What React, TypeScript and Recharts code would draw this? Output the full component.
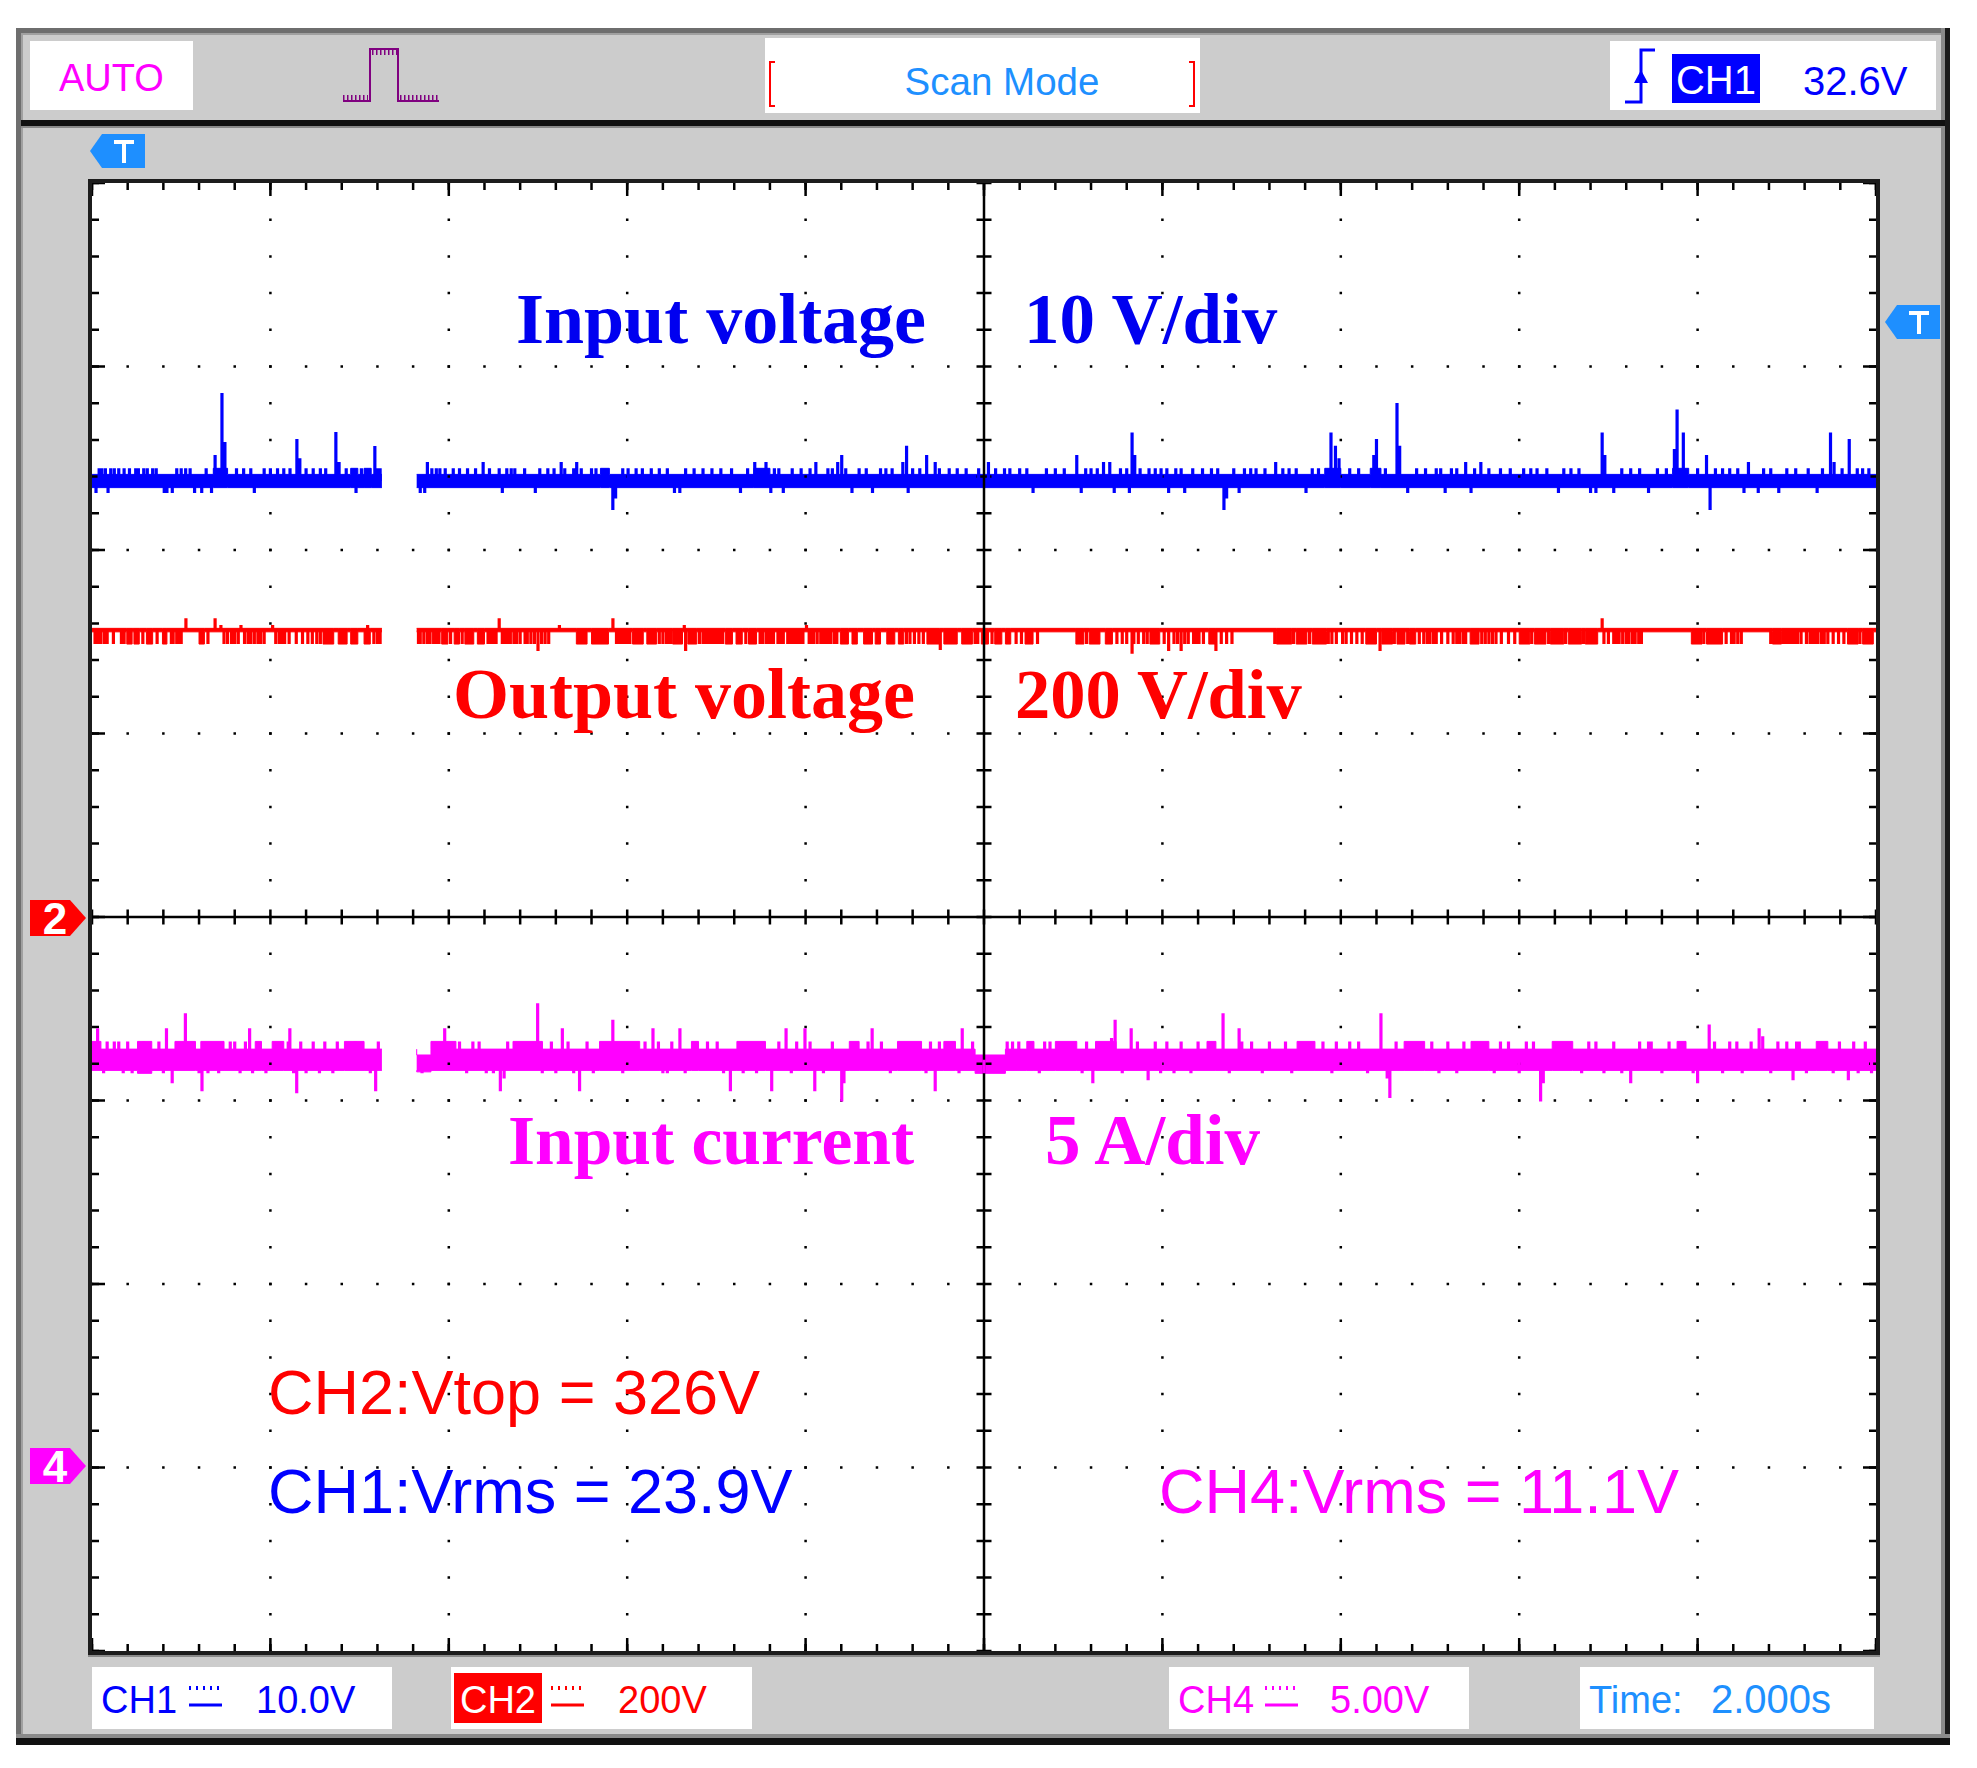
import React from 'react';
import { ComposedChart, XAxis, YAxis, Area, Line, ReferenceLine } from 'recharts';

// screen geometry of the scope display
const W = 1977;
const H = 1768;
const PLOT = { left: 92, top: 183, right: 1876, bottom: 1651 };
const PW = PLOT.right - PLOT.left;
const PH = PLOT.bottom - PLOT.top;
const MINOR_X = PW / 50;
const MINOR_Y = PH / 40;
const MAJOR_X = PW / 10;
const MAJOR_Y = PH / 8;
const DOT = 2.5;

// time base 2.000 s/div, 10 div; vertical 8 div
const timeDomain = [0, 20];
const divDomain = [-4, 4];
const gridCols = [2, 4, 6, 8, 12, 14, 16, 18];
const gridRows = [-3, -2, -1, 1, 2, 3];

// channel scales: CH1 10.0V/div, CH2 200V/div (ground at centre), CH4 5.00V/div (ground one div above bottom)
const ch1Domain = [-40, 40];
const ch2Domain = [-800, 800];
const ch4Domain = [-5, 35];

// scan mode: trace missing between these times
const scanGap = [3.25, 3.64];

// resting band of each trace [lo, hi]
const ch1Level: [number, number] = [23.4, 24.12];
const ch2Level: [number, number] = [310.8, 314.6];
const ch4Level: [number, number] = [10.82, 11.4];

// wider excursions [t0, t1, lo, hi]
const ch1Blocks: number[][] = [
  [1.36, 1.52, 23.4, 24.45], [2.9, 2.98, 23.4, 24.45], [3.05, 3.13, 23.4, 24.45],
  [5.7, 5.8, 23.4, 24.45], [7.42, 7.6, 23.4, 24.45], [13.82, 14.0, 23.4, 24.45],
  [14.33, 14.45, 23.4, 24.45], [17.72, 17.9, 23.4, 24.45],
];
const ch2Blocks: number[][] = [
  [0.39, 0.45, 297.5, 314.6], [0.47, 0.53, 297.5, 314.6], [0.61, 0.68, 297.5, 314.6],
  [0.79, 0.84, 297.5, 314.6], [1.2, 1.26, 297.5, 314.6], [2.59, 2.71, 297.5, 314.6],
  [2.76, 2.86, 297.5, 314.6], [2.9, 2.98, 297.5, 314.6], [3.05, 3.12, 297.5, 314.6],
  [3.92, 3.99, 297.5, 314.6], [4.06, 4.12, 297.5, 314.6], [4.18, 4.28, 297.5, 314.6],
  [4.32, 4.4, 297.5, 314.6], [5.43, 5.55, 297.5, 314.6], [5.6, 5.79, 297.5, 314.6],
  [6.06, 6.18, 297.5, 314.6], [6.22, 6.33, 297.5, 314.6], [6.51, 6.62, 297.5, 314.6],
  [6.68, 6.78, 297.5, 314.6], [7.1, 7.18, 297.5, 314.6], [7.22, 7.29, 297.5, 314.6],
  [7.36, 7.45, 297.5, 314.6], [8.39, 8.48, 297.5, 314.6], [8.52, 8.58, 297.5, 314.6],
  [8.65, 8.75, 297.5, 314.6], [8.78, 8.84, 297.5, 314.6], [8.91, 9.0, 297.5, 314.6],
  [9.04, 9.1, 297.5, 314.6], [9.36, 9.5, 297.5, 314.6], [9.55, 9.7, 297.5, 314.6],
  [9.75, 9.87, 297.5, 314.6], [9.97, 10.05, 297.5, 314.6], [10.12, 10.2, 297.5, 314.6],
  [10.24, 10.3, 297.5, 314.6], [10.46, 10.55, 297.5, 314.6], [11.03, 11.12, 297.5, 314.6],
  [11.18, 11.3, 297.5, 314.6], [11.36, 11.44, 297.5, 314.6], [11.86, 11.97, 297.5, 314.6],
  [12.52, 12.6, 297.5, 314.6], [13.28, 13.45, 297.5, 314.6], [13.5, 13.62, 297.5, 314.6],
  [13.68, 13.84, 297.5, 314.6], [14.28, 14.4, 297.5, 314.6], [14.46, 14.58, 297.5, 314.6],
  [14.63, 14.72, 297.5, 314.6], [14.77, 14.84, 297.5, 314.6], [15.45, 15.55, 297.5, 314.6],
  [16.0, 16.12, 297.5, 314.6], [16.17, 16.3, 297.5, 314.6], [16.35, 16.5, 297.5, 314.6],
  [16.55, 16.7, 297.5, 314.6], [16.74, 16.88, 297.5, 314.6], [17.93, 18.05, 297.5, 314.6],
  [18.1, 18.28, 297.5, 314.6], [18.84, 18.94, 297.5, 314.6], [19.68, 19.8, 297.5, 314.6],
  [19.85, 19.97, 297.5, 314.6],
];
const ch4Blocks: number[][] = [
  [0, 0.1, 10.82, 11.61], [0.51, 0.67, 10.74, 11.61], [0.93, 1.16, 10.82, 11.61],
  [1.22, 1.48, 10.82, 11.61], [1.83, 1.9, 10.82, 11.61], [2.02, 2.15, 10.82, 11.61],
  [2.83, 3.05, 10.82, 11.61], [3.64, 3.8, 10.78, 11.24], [3.8, 4.08, 10.82, 11.61],
  [4.72, 5.05, 10.82, 11.61], [5.69, 6.14, 10.82, 11.61], [6.72, 6.8, 10.82, 11.61],
  [7.23, 7.55, 10.82, 11.61], [8.49, 8.6, 10.82, 11.61], [9.03, 9.3, 10.82, 11.61],
  [9.55, 9.68, 10.82, 11.61], [9.9, 10.24, 10.74, 11.24], [10.48, 10.56, 10.82, 11.61],
  [10.8, 11.04, 10.82, 11.61], [11.25, 11.48, 10.82, 11.61], [12.5, 12.6, 10.82, 11.61],
  [13.51, 13.71, 10.82, 11.61], [14.71, 14.94, 10.82, 11.61], [15.46, 15.66, 10.82, 11.61],
  [16.37, 16.6, 10.82, 11.61], [17.77, 17.87, 10.82, 11.61], [19.33, 19.46, 10.82, 11.61],
];

// narrow spikes / dips [t, value]
const ch1Spikes: number[][] = [
  [0.045, 23.1], [0.08, 24.45], [0.11, 24.45], [0.15, 24.45], [0.18, 23.1], [0.21, 24.45],
  [0.25, 24.45], [0.3, 24.45], [0.36, 24.45], [0.42, 24.45], [0.49, 24.45], [0.52, 24.45],
  [0.58, 24.45], [0.62, 24.45], [0.68, 24.45], [0.72, 24.45], [0.81, 23.1], [0.84, 23.1],
  [0.9, 23.1], [0.95, 24.45], [1.0, 24.45], [1.05, 24.45], [1.1, 24.45], [1.15, 23.1],
  [1.23, 23.1], [1.28, 24.45], [1.34, 23.1], [1.38, 25.18], [1.457, 28.56], [1.49, 25.89],
  [1.62, 24.45], [1.7, 24.45], [1.78, 24.45], [1.82, 23.1], [1.93, 24.45], [2.0, 24.45],
  [2.08, 24.45], [2.15, 24.45], [2.22, 24.45], [2.297, 26.05], [2.33, 25.0], [2.4, 24.45],
  [2.48, 24.45], [2.56, 24.45], [2.62, 24.45], [2.734, 26.43], [2.77, 24.8], [2.85, 24.45],
  [2.96, 23.1], [3.02, 24.45], [3.171, 25.67], [3.2, 24.45], [3.23, 24.45],
  [3.68, 23.1], [3.73, 23.1], [3.76, 24.8], [3.81, 24.45], [3.86, 24.45], [3.9, 24.45],
  [3.96, 24.45], [4.05, 24.45], [4.12, 24.45], [4.21, 24.45], [4.3, 24.45], [4.385, 24.8],
  [4.456, 24.45], [4.565, 24.45], [4.6, 23.1], [4.65, 24.45], [4.7, 24.45], [4.74, 24.45],
  [4.85, 24.45], [4.97, 23.1], [5.02, 24.45], [5.11, 24.45], [5.18, 24.45], [5.26, 24.8],
  [5.3, 24.45], [5.4, 24.45], [5.434, 24.8], [5.485, 24.45], [5.6, 24.45], [5.65, 24.45],
  [5.839, 22.18], [5.87, 22.8], [5.95, 24.45], [6.01, 24.45], [6.1, 24.45], [6.17, 24.45],
  [6.27, 24.45], [6.36, 24.45], [6.45, 24.45], [6.53, 23.1], [6.59, 23.1], [6.655, 24.45],
  [6.75, 24.45], [6.85, 24.45], [6.95, 24.45], [7.05, 24.45], [7.17, 24.45], [7.27, 23.1],
  [7.35, 24.45], [7.43, 24.8], [7.556, 24.8], [7.61, 23.1], [7.65, 24.45], [7.7, 24.45],
  [7.75, 23.1], [7.85, 24.45], [7.95, 24.45], [8.05, 24.45], [8.115, 24.8], [8.25, 24.45],
  [8.3, 24.45], [8.36, 24.8], [8.405, 25.18], [8.45, 24.45], [8.52, 23.1], [8.6, 24.45],
  [8.68, 24.45], [8.75, 23.1], [8.84, 24.45], [8.9, 24.45], [8.97, 24.45], [9.09, 24.8],
  [9.132, 25.68], [9.15, 23.1], [9.2, 24.45], [9.28, 24.45], [9.357, 25.18], [9.453, 24.8],
  [9.5, 24.45], [9.61, 24.45], [9.7, 24.45], [9.8, 24.45], [9.94, 24.45], [10.05, 24.8],
  [10.13, 24.45], [10.23, 24.45], [10.29, 24.45], [10.4, 24.45], [10.48, 24.45], [10.55, 23.1],
  [10.7, 24.45], [10.8, 24.45], [10.9, 24.45], [11.04, 25.18], [11.09, 23.1], [11.14, 24.45],
  [11.2, 24.45], [11.27, 24.45], [11.34, 24.8], [11.41, 24.8], [11.46, 23.1], [11.53, 24.45],
  [11.6, 24.45], [11.63, 23.1], [11.66, 26.41], [11.69, 25.18], [11.75, 24.45], [11.85, 24.45],
  [11.92, 24.45], [11.985, 24.45], [12.05, 24.45], [12.07, 23.1], [12.15, 24.45], [12.21, 24.45],
  [12.25, 23.1], [12.34, 24.45], [12.45, 24.45], [12.55, 24.45], [12.62, 24.45], [12.69, 22.18],
  [12.72, 22.8], [12.8, 24.45], [12.86, 23.1], [12.92, 24.45], [12.99, 24.45], [13.05, 24.45],
  [13.15, 24.45], [13.27, 24.8], [13.35, 24.45], [13.42, 24.45], [13.5, 24.45], [13.61, 23.1],
  [13.68, 24.45], [13.75, 24.45], [13.89, 26.41], [13.94, 25.68], [13.98, 25.0], [14.1, 24.45],
  [14.2, 24.45], [14.37, 25.18], [14.4, 26.05], [14.5, 24.45], [14.63, 28.01], [14.66, 25.68],
  [14.75, 23.1], [14.85, 24.45], [14.95, 24.45], [15.07, 24.45], [15.12, 24.45], [15.17, 23.1],
  [15.24, 24.45], [15.3, 24.45], [15.4, 24.8], [15.46, 23.1], [15.5, 24.45], [15.57, 24.8],
  [15.66, 24.45], [15.79, 24.45], [15.9, 24.45], [16.05, 24.45], [16.13, 24.45], [16.2, 24.45],
  [16.31, 24.45], [16.44, 23.1], [16.5, 24.45], [16.58, 24.45], [16.67, 24.45], [16.8, 23.1],
  [16.86, 23.1], [16.93, 26.41], [16.96, 25.18], [17.06, 23.1], [17.15, 24.45], [17.25, 24.45],
  [17.35, 24.45], [17.45, 23.1], [17.55, 24.45], [17.65, 24.45], [17.74, 25.5], [17.77, 27.65],
  [17.84, 26.41], [18.0, 24.45], [18.1, 25.18], [18.14, 22.18], [18.2, 24.45], [18.28, 24.45],
  [18.36, 24.45], [18.45, 24.45], [18.52, 23.1], [18.57, 24.8], [18.68, 23.1], [18.74, 24.45],
  [18.82, 24.45], [18.91, 23.1], [19.0, 24.45], [19.1, 24.45], [19.24, 24.45], [19.34, 23.1],
  [19.4, 24.45], [19.49, 26.41], [19.53, 24.8], [19.62, 24.45], [19.7, 26.05], [19.79, 24.45],
  [19.85, 24.45], [19.92, 24.45],
];
const ch2Spikes: number[][] = [
  [0.034, 297.5], [0.07, 297.5], [0.1, 297.5], [0.14, 297.5], [0.17, 297.5], [0.24, 297.5],
  [0.33, 297.5], [0.36, 297.5], [0.57, 297.5], [0.73, 297.5], [0.89, 297.5], [0.91, 297.5],
  [0.95, 297.5], [0.97, 297.5], [1.0, 297.5], [1.053, 325.6], [1.3, 297.5], [1.38, 325.6],
  [1.445, 318.3], [1.48, 297.5], [1.52, 297.5], [1.565, 297.5], [1.6, 297.5], [1.64, 297.5],
  [1.67, 318.3], [1.71, 297.5], [1.75, 297.5], [1.78, 297.5], [1.82, 297.5], [1.86, 297.5],
  [1.89, 297.5], [1.93, 297.5], [2.025, 318.3], [2.06, 297.5], [2.1, 297.5], [2.13, 297.5],
  [2.16, 297.5], [2.21, 297.5], [2.29, 297.5], [2.36, 297.5], [2.42, 297.5], [2.47, 297.5],
  [2.52, 297.5], [2.56, 297.5], [3.09, 318.3], [3.16, 297.5], [3.2, 297.5], [3.23, 297.5],
  [3.66, 297.5], [3.68, 297.5], [3.72, 297.5], [3.76, 297.5], [3.79, 297.5], [3.83, 297.5],
  [3.86, 297.5], [3.89, 297.5], [4.02, 297.5], [4.15, 297.5], [4.44, 297.5], [4.47, 297.5],
  [4.5, 297.5], [4.53, 297.5], [4.565, 325.6], [4.6, 297.5], [4.63, 297.5], [4.66, 297.5],
  [4.69, 297.5], [4.73, 297.5], [4.76, 297.5], [4.8, 297.5], [4.855, 297.5], [4.88, 297.5],
  [4.92, 297.5], [4.96, 297.5], [5.0, 290], [5.04, 297.5], [5.08, 297.5], [5.12, 297.5],
  [5.24, 318.3], [5.84, 325.6], [5.88, 297.5], [5.9, 297.5], [5.93, 297.5], [5.95, 297.5],
  [5.98, 297.5], [6.01, 297.5], [6.03, 297.5], [6.36, 297.5], [6.4, 297.5], [6.44, 297.5],
  [6.47, 297.5], [6.49, 297.5], [6.64, 318.3], [6.655, 290], [6.81, 297.5], [6.85, 297.5],
  [6.88, 297.5], [6.91, 297.5], [6.93, 297.5], [6.96, 297.5], [6.98, 297.5], [7.01, 297.5],
  [7.04, 297.5], [7.07, 297.5], [7.33, 297.5], [7.49, 297.5], [7.52, 297.5], [7.56, 297.5],
  [7.585, 297.5], [7.61, 297.5], [7.64, 297.5], [7.69, 297.5], [7.72, 297.5], [7.75, 297.5],
  [7.8, 297.5], [7.83, 297.5], [7.85, 297.5], [7.88, 297.5], [7.91, 297.5], [7.94, 297.5],
  [7.97, 297.5], [8.01, 318.3], [8.04, 297.5], [8.07, 297.5], [8.09, 297.5], [8.13, 297.5],
  [8.17, 297.5], [8.2, 297.5], [8.23, 297.5], [8.26, 297.5], [8.28, 297.5], [8.32, 297.5],
  [8.35, 297.5], [9.13, 297.5], [9.17, 297.5], [9.22, 297.5], [9.27, 297.5], [9.32, 297.5],
  [9.51, 291], [9.9, 297.5], [9.93, 297.5], [10.09, 297.5], [10.36, 297.5], [10.42, 297.5],
  [10.6, 297.5], [11.15, 297.5], [11.49, 297.5], [11.55, 297.5], [11.6, 297.5], [11.66, 287],
  [11.68, 297.5], [11.73, 297.5], [11.79, 297.5], [11.83, 297.5], [12.02, 297.5], [12.07, 290],
  [12.13, 297.5], [12.17, 297.5], [12.21, 290], [12.25, 297.5], [12.29, 297.5], [12.35, 297.5],
  [12.38, 297.5], [12.41, 297.5], [12.46, 297.5], [12.6, 290], [12.66, 297.5], [12.72, 297.5],
  [12.78, 297.5], [13.26, 297.5], [13.47, 297.5], [13.65, 297.5], [13.86, 297.5], [13.9, 297.5],
  [13.95, 297.5], [14.02, 297.5], [14.06, 297.5], [14.12, 297.5], [14.18, 297.5], [14.24, 297.5],
  [14.44, 290], [14.6, 297.5], [14.75, 297.5], [14.88, 297.5], [14.93, 297.5], [14.97, 297.5],
  [15.0, 297.5], [15.04, 297.5], [15.07, 297.5], [15.13, 297.5], [15.2, 297.5], [15.26, 297.5],
  [15.3, 297.5], [15.33, 297.5], [15.37, 297.5], [15.4, 297.5], [15.58, 297.5], [15.62, 297.5],
  [15.66, 297.5], [15.7, 297.5], [15.74, 297.5], [15.8, 297.5], [15.88, 297.5], [15.95, 297.5],
  [16.14, 297.5], [16.33, 297.5], [16.52, 297.5], [16.72, 297.5], [16.93, 325.6], [16.95, 297.5],
  [17.0, 297.5], [17.06, 297.5], [17.09, 297.5], [17.12, 297.5], [17.16, 297.5], [17.2, 297.5],
  [17.23, 297.5], [17.27, 297.5], [17.3, 297.5], [17.34, 297.5], [17.37, 297.5], [18.07, 297.5],
  [18.32, 297.5], [18.38, 297.5], [18.41, 297.5], [18.45, 297.5], [18.49, 297.5], [18.82, 297.5],
  [18.96, 297.5], [18.98, 297.5], [19.0, 297.5], [19.03, 297.5], [19.06, 297.5], [19.09, 297.5],
  [19.12, 297.5], [19.16, 297.5], [19.22, 297.5], [19.26, 297.5], [19.29, 297.5], [19.32, 297.5],
  [19.35, 297.5], [19.39, 297.5], [19.42, 297.5], [19.46, 297.5], [19.52, 297.5], [19.58, 297.5],
  [19.64, 297.5], [19.82, 297.5],
];
const ch4Spikes: number[][] = [
  [0.063, 11.97], [0.13, 10.74], [0.17, 11.61], [0.25, 11.61], [0.3, 11.61], [0.35, 10.74],
  [0.4, 11.61], [0.45, 10.74], [0.58, 11.61], [0.75, 11.61], [0.8, 10.74], [0.835, 11.97],
  [0.899, 10.47], [1.047, 12.38], [1.2, 10.74], [1.233, 10.25], [1.3, 10.74], [1.42, 10.74],
  [1.55, 11.61], [1.6, 11.61], [1.66, 10.74], [1.72, 11.61], [1.767, 11.97], [1.8, 10.74],
  [1.95, 10.74], [2.2, 11.61], [2.218, 11.97], [2.26, 10.74], [2.295, 10.2], [2.34, 11.61],
  [2.4, 10.74], [2.48, 11.61], [2.55, 10.74], [2.61, 11.61], [2.7, 10.74], [2.75, 11.61],
  [2.95, 11.61], [3.12, 10.74], [3.18, 10.25], [3.21, 11.61],
  [3.7, 10.74], [3.954, 11.97], [4.12, 11.61], [4.2, 10.74], [4.27, 11.61], [4.34, 11.61],
  [4.42, 10.74], [4.5, 10.74], [4.578, 10.25], [4.62, 10.6], [4.66, 11.61], [4.996, 12.65],
  [5.048, 10.74], [5.15, 11.61], [5.2, 10.74], [5.273, 11.97], [5.337, 11.61], [5.4, 10.74],
  [5.466, 10.25], [5.55, 11.61], [5.62, 10.74], [5.839, 12.2], [5.95, 10.74], [6.2, 11.61],
  [6.289, 11.97], [6.35, 11.61], [6.4, 10.74], [6.45, 10.74], [6.5, 11.61], [6.591, 11.97],
  [6.65, 10.74], [6.9, 11.61], [7.009, 11.61], [7.08, 10.74], [7.157, 10.25], [7.3, 10.74],
  [7.45, 10.74], [7.62, 10.25], [7.7, 11.61], [7.781, 11.97], [7.84, 10.74], [7.9, 11.61],
  [7.993, 11.97], [8.05, 11.61], [8.103, 10.25], [8.2, 10.74], [8.3, 11.61], [8.405, 9.97],
  [8.43, 10.47], [8.7, 11.61], [8.746, 11.97], [8.85, 11.61], [8.95, 10.74], [9.35, 10.74],
  [9.4, 11.61], [9.453, 10.25], [9.5, 11.61], [9.72, 10.74], [9.756, 11.97], [9.872, 11.61],
  [10.0, 10.74], [10.26, 11.61], [10.32, 11.61], [10.39, 11.61], [10.62, 10.74], [10.68, 11.61],
  [10.74, 11.61], [11.1, 10.74], [11.15, 11.61], [11.22, 10.47], [11.43, 11.7], [11.47, 12.2],
  [11.55, 10.74], [11.65, 11.97], [11.72, 11.61], [11.84, 10.55], [11.92, 11.61], [11.98, 10.74],
  [12.05, 11.61], [12.13, 10.74], [12.21, 11.61], [12.32, 10.74], [12.4, 11.61], [12.68, 12.38],
  [12.75, 10.74], [12.86, 11.97], [12.89, 11.61], [13.0, 11.61], [13.12, 10.74], [13.2, 11.61],
  [13.38, 11.61], [13.45, 10.74], [13.8, 11.61], [13.9, 10.74], [13.95, 11.61], [14.1, 11.61],
  [14.2, 11.61], [14.3, 10.74], [14.45, 12.38], [14.52, 10.6], [14.55, 10.07], [14.62, 11.61],
  [15.02, 11.61], [15.1, 10.74], [15.2, 11.61], [15.3, 10.74], [15.38, 11.61], [15.72, 10.74],
  [15.79, 11.61], [15.88, 11.61], [16.0, 10.74], [16.08, 11.61], [16.16, 11.61], [16.24, 9.97],
  [16.27, 10.47], [16.7, 10.74], [16.78, 11.61], [16.86, 11.61], [16.95, 10.74], [17.06, 11.61],
  [17.15, 10.74], [17.25, 10.47], [17.35, 11.61], [17.45, 11.61], [17.48, 11.61], [17.6, 10.74],
  [17.68, 11.61], [17.95, 10.74], [18.0, 10.47], [18.13, 12.07], [18.19, 11.61], [18.28, 10.74],
  [18.36, 11.61], [18.44, 11.61], [18.5, 10.74], [18.6, 11.61], [18.69, 11.97], [18.73, 11.75],
  [18.82, 10.74], [18.9, 11.61], [19.0, 11.61], [19.07, 10.55], [19.11, 11.61], [19.14, 11.61],
  [19.22, 10.74], [19.52, 10.74], [19.59, 11.61], [19.69, 10.55], [19.75, 11.61], [19.8, 10.74],
  [19.88, 11.61], [19.95, 10.74],
];

const traces = [
  { id: 'ch1', color: '#0000ff', level: ch1Level, blocks: ch1Blocks, spikes: ch1Spikes },
  { id: 'ch2', color: '#ff0000', level: ch2Level, blocks: ch2Blocks, spikes: ch2Spikes },
  { id: 'ch4', color: '#ff00ff', level: ch4Level, blocks: ch4Blocks, spikes: ch4Spikes },
];

// stepped min/max envelope rows for one scan segment
const bandRows = (from: number, to: number, level: number[], blocks: number[][]) => {
  const rows: { t: number; v: number[] }[] = [{ t: from, v: level }];
  blocks
    .filter((b) => b[0] >= from && b[0] < to)
    .forEach(([a, b, lo, hi]) => {
      rows.push({ t: a, v: [lo, hi] }, { t: b, v: level });
    });
  rows.push({ t: to, v: level });
  return rows;
};

// each spike drawn as its own vertical stroke from the middle of the band
const spikeRows = (spikes: number[][], level: number[]) => {
  const base = (level[0] + level[1]) / 2;
  return spikes.flatMap(([t, v]) => [{ t, v: base }, { t, v }, { t, v: null }]);
};

const dash = (period: number, w = DOT) => `${w} ${period - w}`;

const SANS = 'Liberation Sans, Arial, sans-serif';
const SERIF = 'Liberation Serif, Times New Roman, serif';

const TMark = ({ x, y }: { x: number; y: number }) => (
  <g>
    <polygon points={`${x},${y + 17} ${x + 12},${y} ${x + 55},${y} ${x + 55},${y + 34} ${x + 12},${y + 34}`} fill="#1e8fff" />
    <rect x={x + 24} y={y + 6} width={20} height={4} fill="#fff" />
    <rect x={x + 32} y={y + 6} width={4} height={23} fill="#fff" />
  </g>
);

const ChMark = ({ y, color, label }: { y: number; color: string; label: string }) => (
  <g>
    <polygon points={`30,${y - 18} 70,${y - 18} 86,${y} 70,${y + 18} 30,${y + 18}`} fill={color} />
    <text x={55} y={y + 16} fill="#fff" fontSize={44} fontWeight="bold" textAnchor="middle" fontFamily={SANS}>{label}</text>
  </g>
);

const DcMark = ({ x, color }: { x: number; color: string }) => (
  <g>
    <line x1={x} x2={x + 33} y1={1688} y2={1688} stroke={color} strokeWidth={4} strokeDasharray="2 5" />
    <line x1={x} x2={x + 33} y1={1705} y2={1705} stroke={color} strokeWidth={3} />
  </g>
);

const abs: React.CSSProperties = { position: 'absolute', left: 0, top: 0 };

const App: React.FC = () => {
  return (
    <div style={{ ...abs, width: W, height: H, background: '#fff', overflow: 'hidden' }}>
      {/* instrument frame */}
      <svg width={W} height={H} style={abs}>
        <rect x={16} y={28} width={1934} height={1717} fill="#cccccc" />
        <rect x={16} y={28} width={1934} height={5} fill="#6e6e6e" />
        <rect x={16} y={28} width={5} height={1717} fill="#6e6e6e" />
        <rect x={21} y={33} width={1924} height={2} fill="#a0a0a0" />
        <rect x={21} y={33} width={2} height={1705} fill="#a0a0a0" />
        <rect x={1941} y={28} width={4} height={1717} fill="#8a8a8a" />
        <rect x={1945} y={28} width={5} height={1717} fill="#1a1a1a" />
        <rect x={16} y={1734} width={1934} height={4} fill="#8a8a8a" />
        <rect x={16} y={1738} width={1934} height={7} fill="#111" />
        <rect x={21} y={120} width={1924} height={6} fill="#111" />
        <rect x={21} y={126} width={1924} height={2} fill="#8a8a8a" />
        <rect x={PLOT.left} y={PLOT.top} width={PW} height={PH} fill="#fff" />
      </svg>

      <div style={abs}>
        <ComposedChart
          width={W}
          height={H}
          margin={{ top: PLOT.top, left: PLOT.left, right: W - PLOT.right, bottom: H - PLOT.bottom }}
        >
          <XAxis xAxisId="t" type="number" dataKey="t" domain={timeDomain} allowDataOverflow hide />
          <YAxis yAxisId="div" type="number" domain={divDomain} allowDataOverflow hide />
          <YAxis yAxisId="ch1" type="number" domain={ch1Domain} allowDataOverflow hide />
          <YAxis yAxisId="ch2" type="number" domain={ch2Domain} allowDataOverflow hide />
          <YAxis yAxisId="ch4" type="number" domain={ch4Domain} allowDataOverflow hide />

          {/* dotted graticule */}
          {gridRows.map((d) => (
            <ReferenceLine key={`r${d}`} xAxisId="t" yAxisId="div" y={d} stroke="#000" strokeWidth={DOT}
              strokeDasharray={dash(MINOR_X)} strokeDashoffset={DOT / 2} />
          ))}
          {gridCols.map((t) => (
            <ReferenceLine key={`c${t}`} xAxisId="t" yAxisId="div" x={t} stroke="#000" strokeWidth={DOT}
              strokeDasharray={dash(MINOR_Y)} strokeDashoffset={DOT / 2} />
          ))}

          {/* centre cross with ticks */}
          <ReferenceLine xAxisId="t" yAxisId="div" y={0} stroke="#000" strokeWidth={2.5} />
          <ReferenceLine xAxisId="t" yAxisId="div" y={0} stroke="#000" strokeWidth={15}
            strokeDasharray={dash(MINOR_X)} strokeDashoffset={DOT / 2} />
          <ReferenceLine xAxisId="t" yAxisId="div" x={10} stroke="#000" strokeWidth={2.5} />
          <ReferenceLine xAxisId="t" yAxisId="div" x={10} stroke="#000" strokeWidth={15}
            strokeDasharray={dash(MINOR_Y)} strokeDashoffset={DOT / 2} />

          {/* edge ticks, clipped to the screen */}
          {[divDomain[0], divDomain[1]].map((d) => [
            <ReferenceLine key={`em${d}`} xAxisId="t" yAxisId="div" y={d} stroke="#000" strokeWidth={14}
              strokeDasharray={dash(MINOR_X)} strokeDashoffset={DOT / 2} ifOverflow="hidden" />,
            <ReferenceLine key={`eM${d}`} xAxisId="t" yAxisId="div" y={d} stroke="#000" strokeWidth={26}
              strokeDasharray={dash(MAJOR_X)} strokeDashoffset={DOT / 2} ifOverflow="hidden" />,
          ])}
          {[timeDomain[0], timeDomain[1]].map((t) => [
            <ReferenceLine key={`sm${t}`} xAxisId="t" yAxisId="div" x={t} stroke="#000" strokeWidth={14}
              strokeDasharray={dash(MINOR_Y)} strokeDashoffset={DOT / 2} ifOverflow="hidden" />,
            <ReferenceLine key={`sM${t}`} xAxisId="t" yAxisId="div" x={t} stroke="#000" strokeWidth={26}
              strokeDasharray={dash(MAJOR_Y)} strokeDashoffset={DOT / 2} ifOverflow="hidden" />,
          ])}

          {/* traces */}
          {traces.map((tr) => [
            <Area key={`${tr.id}a`} data={bandRows(timeDomain[0], scanGap[0], tr.level, tr.blocks)}
              xAxisId="t" yAxisId={tr.id} dataKey="v" type="stepAfter" stroke={tr.color} strokeWidth={1}
              fill={tr.color} fillOpacity={1} dot={false} activeDot={false} isAnimationActive={false} />,
            <Area key={`${tr.id}b`} data={bandRows(scanGap[1], timeDomain[1], tr.level, tr.blocks)}
              xAxisId="t" yAxisId={tr.id} dataKey="v" type="stepAfter" stroke={tr.color} strokeWidth={1}
              fill={tr.color} fillOpacity={1} dot={false} activeDot={false} isAnimationActive={false} />,
            <Line key={`${tr.id}s`} data={spikeRows(tr.spikes, tr.level)} xAxisId="t" yAxisId={tr.id}
              dataKey="v" type="linear" stroke={tr.color} strokeWidth={3.2} dot={false} activeDot={false}
              connectNulls={false} isAnimationActive={false} />,
          ])}
        </ComposedChart>
      </div>

      {/* overlay: border, labels, readouts */}
      <svg width={W} height={H} style={{ ...abs, pointerEvents: 'none' }}>
        <rect x={PLOT.left - 2} y={PLOT.top - 2} width={PW + 4} height={PH + 4} fill="none" stroke="#1c1c1c" strokeWidth={4} />
        <rect x={PLOT.left - 4} y={PLOT.bottom + 4} width={PW + 8} height={2} fill="#8a8a8a" />

        {/* top bar */}
        <rect x={30} y={41} width={163} height={69} fill="#fff" />
        <text x={59} y={91} fontSize={38} fill="#ff00ff" fontFamily={SANS}>AUTO</text>
        <path d="M343 101 H370 V49 H398 V101 H439" stroke="#800080" strokeWidth={2} fill="none" />
        <line x1={343} x2={368} y1={98} y2={98} stroke="#800080" strokeWidth={6} strokeDasharray="1.5 2.5" />
        <line x1={400} x2={439} y1={98} y2={98} stroke="#800080" strokeWidth={6} strokeDasharray="1.5 2.5" />
        <line x1={372} x2={397} y1={52} y2={52} stroke="#800080" strokeWidth={6} strokeDasharray="1.5 2.5" />
        <rect x={765} y={38} width={435} height={75} fill="#fff" />
        <path d="M775 62 H770 V106 H775" stroke="#ff0000" strokeWidth={2} fill="none" />
        <path d="M1189 62 H1194 V106 H1189" stroke="#ff0000" strokeWidth={2} fill="none" />
        <text x={1002} y={95} fontSize={38.5} fill="#1e90ff" textAnchor="middle" fontFamily={SANS}>Scan Mode</text>
        <rect x={1610} y={41} width={326} height={69} fill="#fff" />
        <path d="M1655 50 H1641 V102 H1625" stroke="#0000ff" strokeWidth={3} fill="none" />
        <polygon points="1641,70 1634,83 1648,83" fill="#0000ff" />
        <rect x={1672} y={54} width={88} height={49} fill="#0000ff" />
        <text x={1716} y={94} fontSize={40} fill="#fff" textAnchor="middle" fontFamily={SANS}>CH1</text>
        <text x={1803} y={95} fontSize={40} fill="#0000ff" fontFamily={SANS}>32.6V</text>

        <TMark x={90} y={134} />
        <TMark x={1885} y={305} />
        <ChMark y={918} color="#ff0000" label="2" />
        <ChMark y={1466} color="#ff00ff" label="4" />

        {/* trace captions */}
        <g fontFamily={SERIF} fontWeight="bold">
          <text x={516} y={343} fill="#0000f0" fontSize={72}>Input voltage</text>
          <text x={1024} y={343} fill="#0000f0" fontSize={71}>10 V/div</text>
          <text x={453} y={718} fill="#ff0000" fontSize={72}>Output voltage</text>
          <text x={1015} y={718} fill="#ff0000" fontSize={70.5}>200 V/div</text>
          <text x={508} y={1164} fill="#ff00ff" fontSize={69.5}>Input current</text>
          <text x={1045} y={1164} fill="#ff00ff" fontSize={71}>5 A/div</text>
        </g>
        <g fontFamily={SANS} fontSize={63}>
          <text x={268} y={1414} fill="#ff0000">CH2:Vtop = 326V</text>
          <text x={268} y={1513} fill="#0000ff">CH1:Vrms = 23.9V</text>
          <text x={1159} y={1513} fill="#ff00ff">CH4:Vrms = 11.1V</text>
        </g>

        {/* bottom readouts */}
        <rect x={92} y={1667} width={300} height={62} fill="#fff" />
        <rect x={451} y={1667} width={301} height={62} fill="#fff" />
        <rect x={1169} y={1667} width={300} height={62} fill="#fff" />
        <rect x={1580} y={1667} width={294} height={62} fill="#fff" />
        <g fontFamily={SANS} fontSize={38}>
          <text x={101} y={1713} fill="#0000ff">CH1</text>
          <text x={256} y={1713} fill="#0000ff">10.0V</text>
          <rect x={454} y={1673} width={88} height={50} fill="#ff0000" />
          <text x={498} y={1713} fill="#fff" textAnchor="middle">CH2</text>
          <text x={618} y={1713} fill="#ff0000">200V</text>
          <text x={1178} y={1713} fill="#ff00ff">CH4</text>
          <text x={1330} y={1713} fill="#ff00ff">5.00V</text>
          <text x={1589} y={1713} fill="#1e90ff">Time:</text>
          <text x={1711} y={1713} fill="#1e90ff" fontSize={40}>2.000s</text>
        </g>
        <DcMark x={189} color="#0000ff" />
        <DcMark x={551} color="#ff0000" />
        <DcMark x={1265} color="#ff00ff" />
      </svg>
    </div>
  );
};

export default App;
